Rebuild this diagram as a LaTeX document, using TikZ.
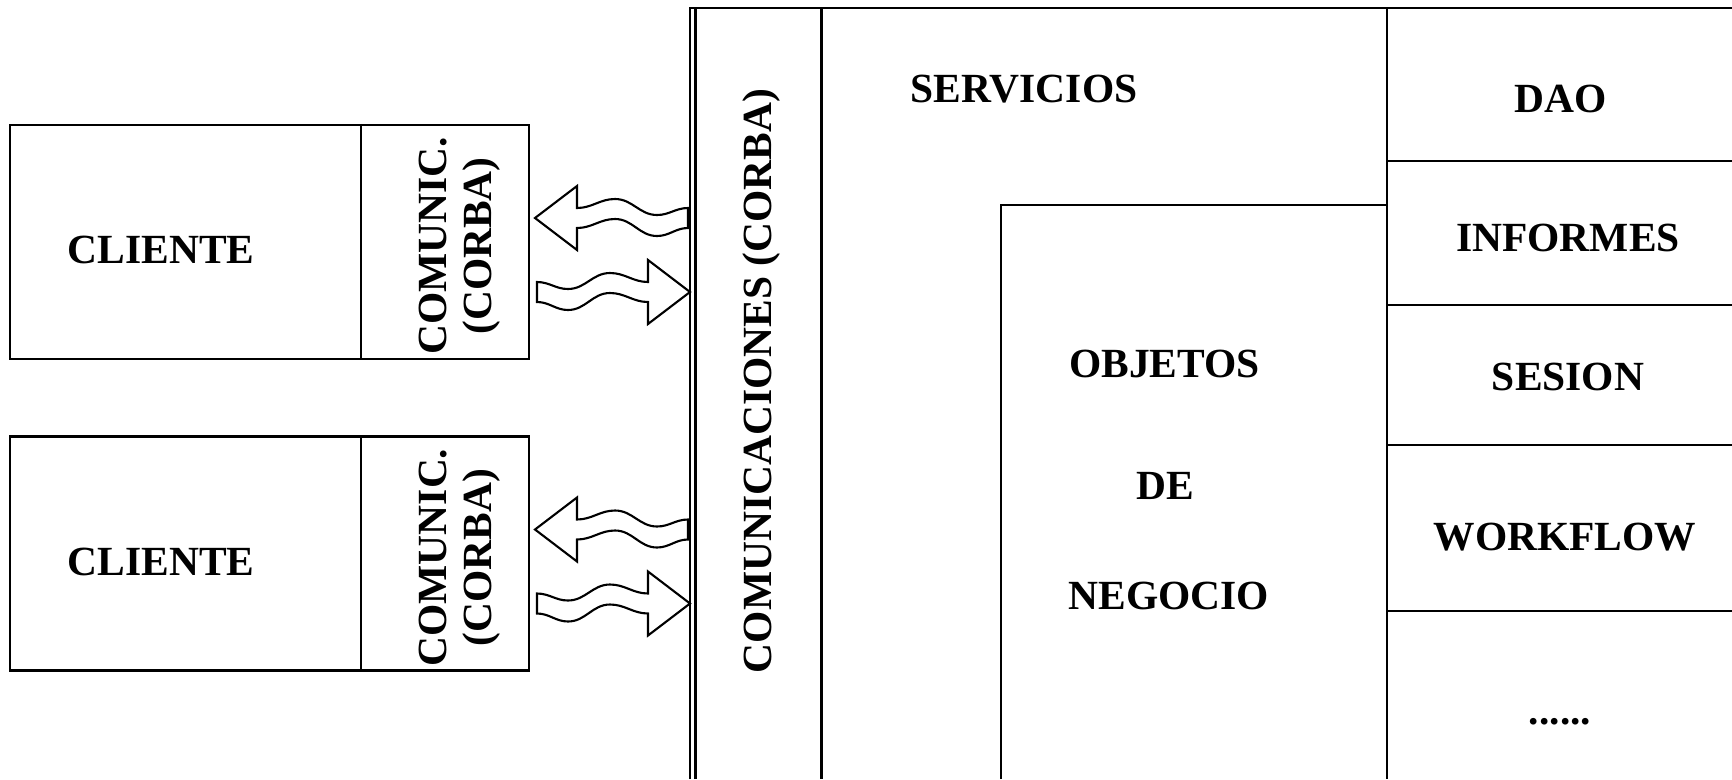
\documentclass[tikz,border=0pt]{standalone}
\usepackage{fontspec}
\setmainfont{Liberation Serif}

\begin{document}
\begin{tikzpicture}
    [
        line width = 0.6pt,
        txt/.style = {font = \bfseries\fontsize{11.8}{12.8}\selectfont, inner sep = 0pt},
        clientbox/.style = {draw, minimum width = 5.19cm, minimum height = 2.34cm, inner sep = 0pt},
        wavyarrow/.pic = {
                \draw[fill = white] (-0.42,0.10) -- (-0.42,0.32) -- (0,0) -- (-0.42,-0.32) -- (-0.42,-0.10)
                to[out=180,in=0] (-0.80,-0.01) to[out=180,in=0] (-1.22,-0.18) to[out=180,in=0] (-1.53,-0.10)
                -- (-1.53,0.10)
                to[out=0,in=180] (-1.22,0.03) to[out=0,in=180] (-0.80,0.19) to[out=0,in=180] (-0.42,0.10) -- cycle;
            },
    ]

    \useasboundingbox (0,0) rectangle (17.32,-7.79);

    % servidor
    \draw (6.90,-7.79) -- (6.90,-0.08) -- (17.32,-0.08);
    \draw (6.955,-7.79) -- (6.955,-0.08);
    \draw (8.215,-0.08) -- (8.215,-7.79);
    \draw (13.87,-0.08) -- (13.87,-7.79);
    \draw (10.007,-7.79) -- (10.007,-2.05) -- (13.87,-2.05);
    \foreach \y in {1.61,3.05,4.45,6.11}{
            \draw (13.87,-\y) -- (17.32,-\y);
        }

    \node[txt, rotate=90] (comcorba) at (7.62,-3.81) {COMUNICACIONES (CORBA)};
    \node[txt] (servicios) at (10.24,-0.89) {SERVICIOS};
    \node[txt] (objetos) at (11.645,-3.64) {OBJETOS};
    \node[txt] (de) at (11.65,-4.86) {DE};
    \node[txt] (negocio) at (11.69,-5.96) {NEGOCIO};

    \foreach \n/\x/\y/\t in {dao/15.61/0.985/DAO, informes/15.68/2.375/INFORMES,
            sesion/15.68/3.77/SESION, workflow/15.65/5.375/WORKFLOW}{
            \node[txt] (\n) at (\x,-\y) {\t};
        }
    \node[txt] (otros) at (15.60,-7.22) {......};

    % clientes
    \foreach \i/\y in {1/-2.42, 2/-5.535}{
            \node[clientbox] (clibox\i) at (2.695,\y) {};
            \draw (clibox\i.north west) ++(3.52,0) -- ++(0,-2.34);
            \node[txt] (cliente\i) at (1.61,\y-0.08) {CLIENTE};
            \node[txt, rotate=90, align=center] (comunic\i) at (4.60,\y-0.04) {COMUNIC.\\(CORBA)};
            \pic[xscale=-1] at (5.35,\y+0.24) {wavyarrow};
            \pic at (6.90,\y-0.50) {wavyarrow};
        }

\end{tikzpicture}
\end{document}
